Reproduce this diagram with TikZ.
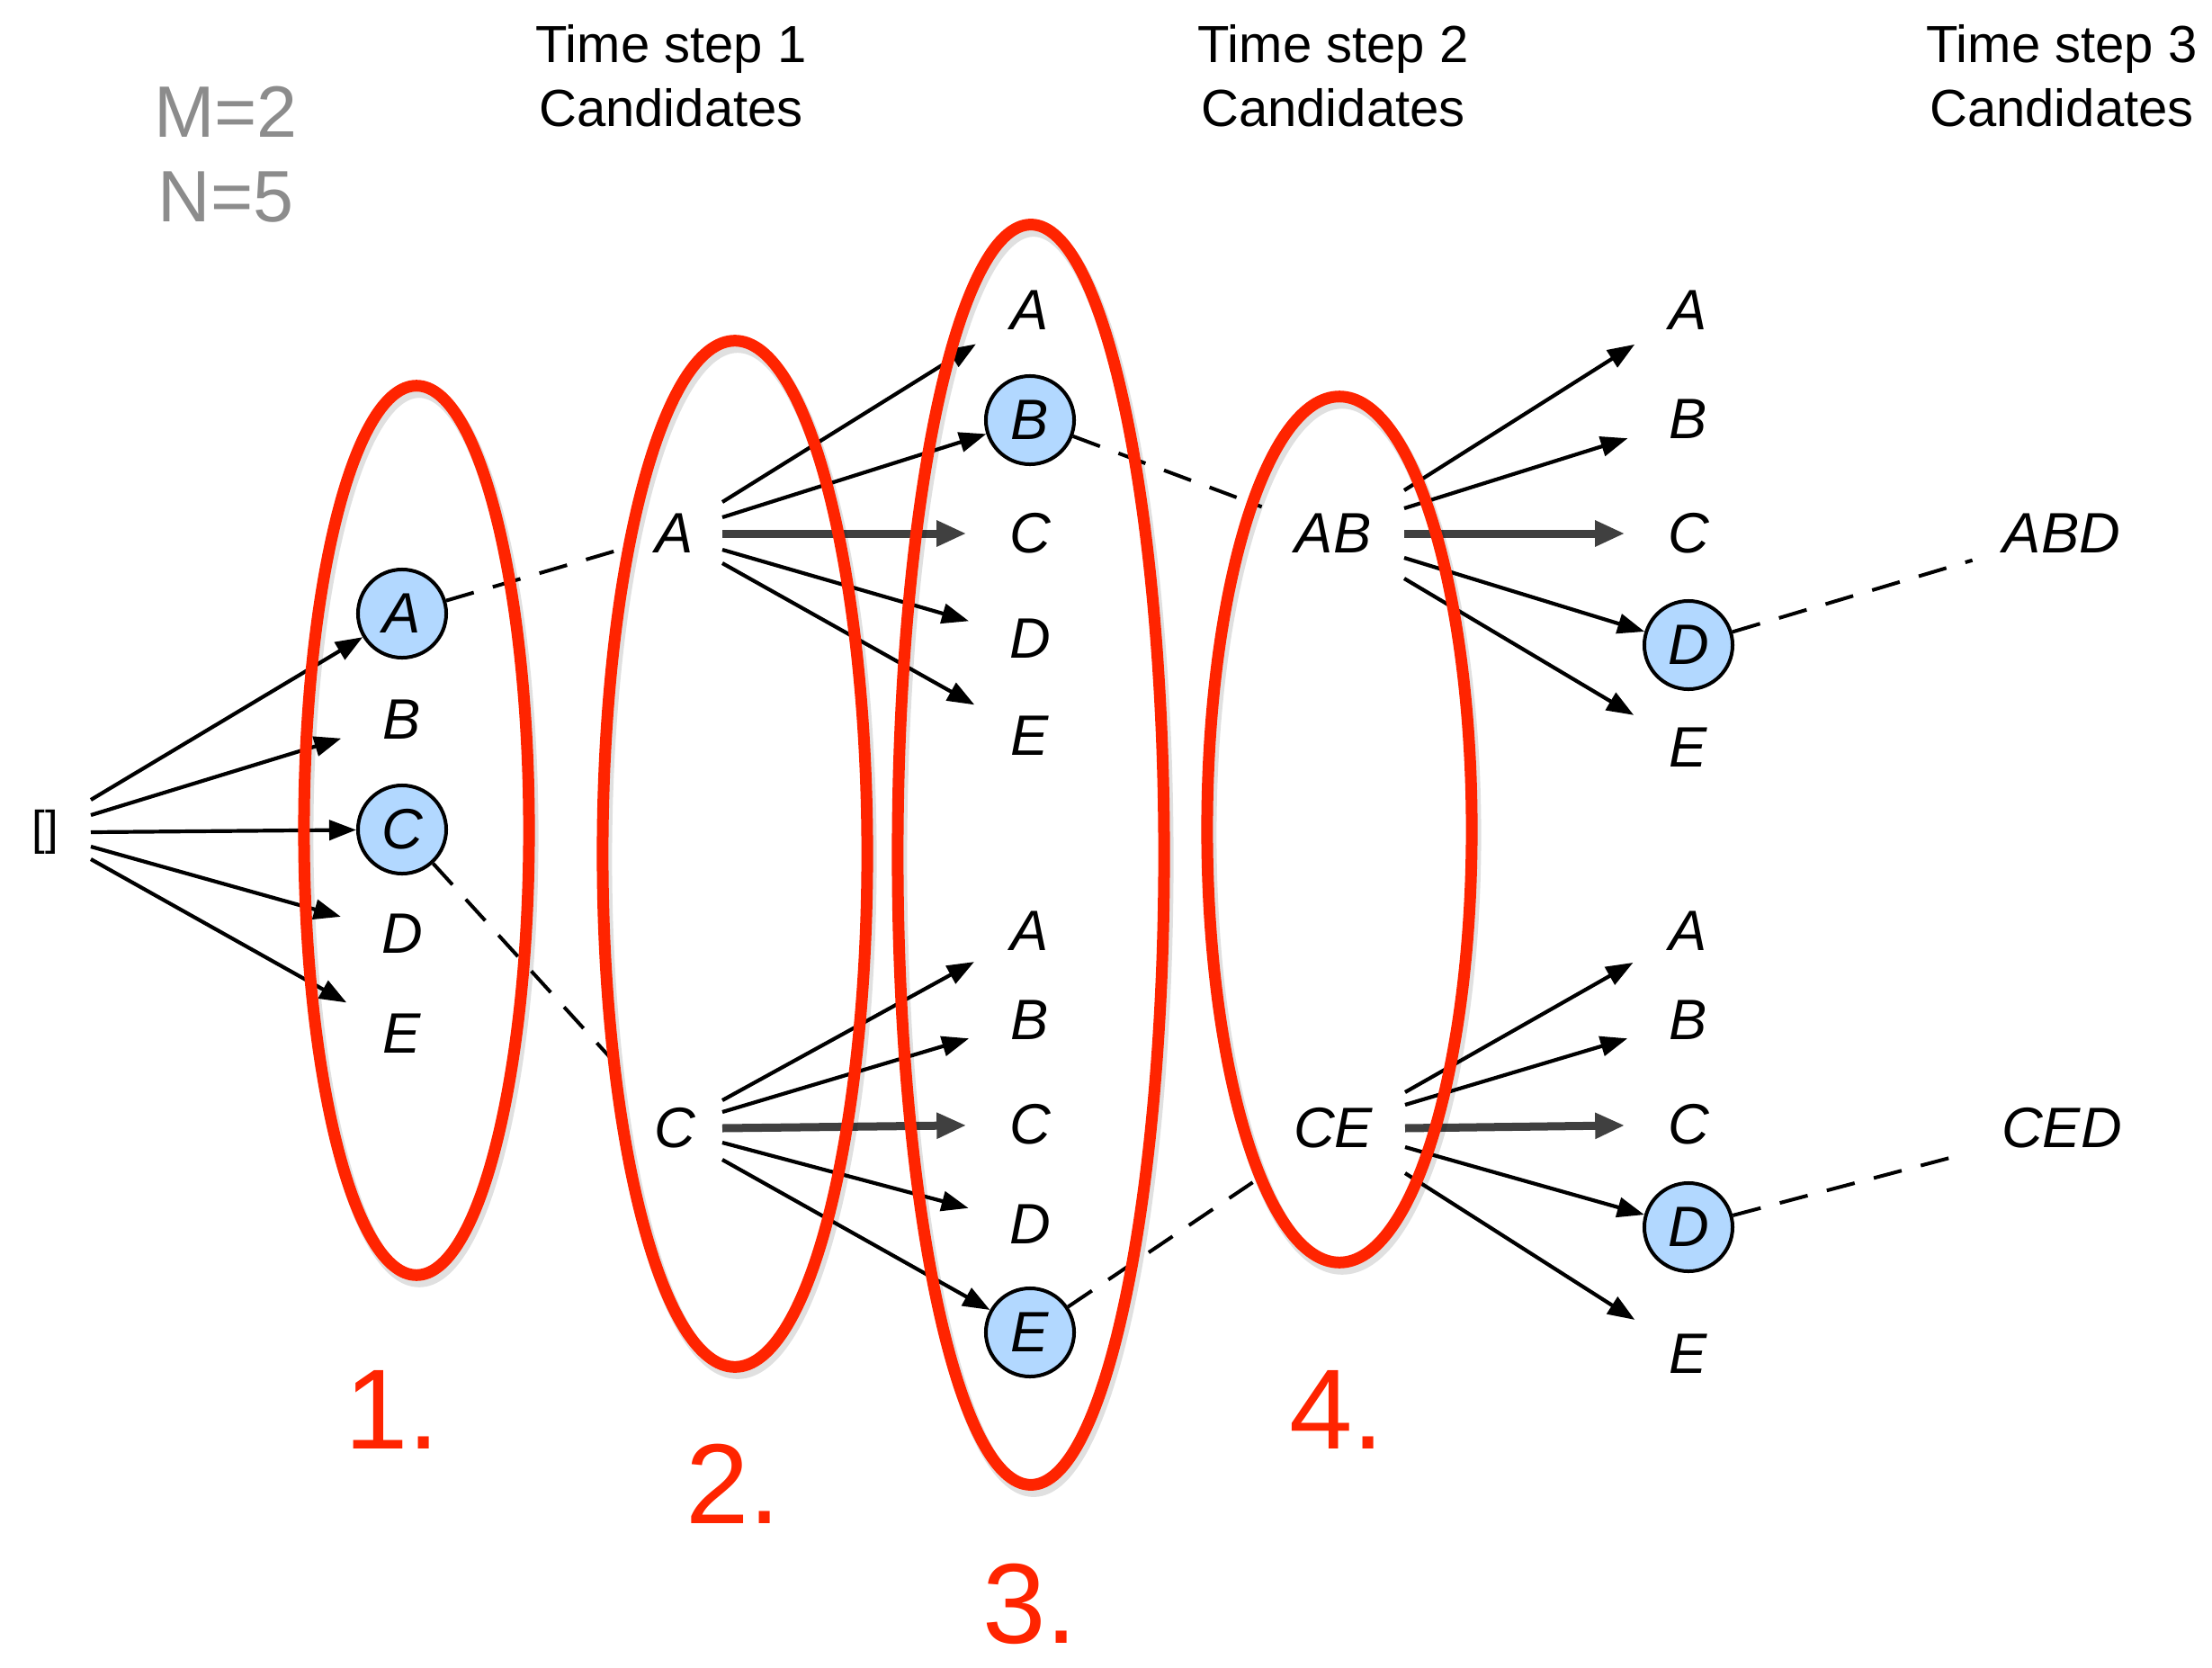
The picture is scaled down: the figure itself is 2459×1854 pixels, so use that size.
\documentclass[tikz,border=0pt]{standalone}
\usepackage{fontspec}
\setmainfont{Liberation Sans}
\usetikzlibrary{arrows.meta,calc}
\definecolor{hlblue}{RGB}{178,216,255}
\definecolor{redc}{RGB}{255,36,0}
\definecolor{grayt}{RGB}{140,140,140}
\definecolor{darkarr}{RGB}{64,64,64}
\newcommand\lfont{\fontsize{18}{21}\selectfont\itshape}
\begin{document}
\begin{tikzpicture}[x=0.01cm,y=-0.01cm,
 lt/.style={circle,inner sep=0pt,minimum size=14mm,font=\lfont},
 hl/.style={circle,draw,fill=hlblue,line width=0.4mm,inner sep=0pt,minimum size=9.8mm,font=\lfont},
 midl/.style={circle,inner sep=0pt,minimum size=12mm,font=\lfont},
 pairl/.style={circle,inner sep=0pt,minimum size=16.8mm,font=\lfont},
 triple/.style={circle,inner sep=0pt,minimum size=20.6mm,font=\lfont},
 arr/.style={-{Triangle[length=3mm,width=2.2mm]},line width=0.42mm},
 marr/.style={-{Triangle[length=3.3mm,width=2.7mm]},line width=0.9mm,draw=darkarr,fill=darkarr},
 dsh/.style={line width=0.4mm,dash pattern=on 3.2mm off 2.2mm},
 redell/.style={draw=redc,line width=1.3mm},
 shadowell/.style={draw=black,opacity=0.12,line width=1.5mm},
 hdr/.style={anchor=base,font=\fontsize{16.5}{20}\selectfont},
 mn/.style={anchor=base,text=grayt,font=\fontsize{23}{27}\selectfont},
 num/.style={anchor=base,inner sep=0pt,text=redc,font=\fontsize{36}{42}\selectfont}]

\useasboundingbox (0,0) rectangle (2459,1854);

% headers
\node[mn] (m2) at (251,152) {M=2};
\node[mn] (n5) at (251,246) {N=5};
\node[hdr] (h1a) at (746,69) {Time step 1};
\node[hdr] (h1b) at (746,140) {Candidates};
\node[hdr] (h2a) at (1482,69) {Time step 2};
\node[hdr] (h2b) at (1482,140) {Candidates};
\node[hdr] (h3a) at (2292,69) {Time step 3};
\node[hdr] (h3b) at (2292,140) {Candidates};

% root
\node[font=\fontsize{15}{18}\selectfont,inner sep=0pt] (root) at (50,925) {[]};

% column 1
\node[hl] (c1A) at (447,682) {A};
\node[lt] (c1B) at (447,800) {B};
\node[hl] (c1C) at (447,922) {C};
\node[lt] (c1D) at (447,1038) {D};
\node[lt] (c1E) at (447,1149) {E};

% column 2
\node[midl] (c2A) at (750,593) {A};
\node[midl] (c2C) at (750,1254) {C};

% column 3
\node[lt] (t3A) at (1145,345) {A};
\node[hl] (t3B) at (1145,467) {B};
\node[lt] (t3C) at (1145,593) {C};
\node[lt] (t3D) at (1145,710) {D};
\node[lt] (t3E) at (1145,818) {E};
\node[lt] (b3A) at (1145,1035) {A};
\node[lt] (b3B) at (1145,1134) {B};
\node[lt] (b3C) at (1145,1250) {C};
\node[lt] (b3D) at (1145,1361) {D};
\node[hl] (b3E) at (1145,1481) {E};

% column 4
\node[pairl] (AB) at (1482,593) {AB};
\node[pairl] (CE) at (1482,1254) {CE};

% column 5
\node[lt] (t5A) at (1877,345) {A};
\node[lt] (t5B) at (1877,466) {B};
\node[lt] (t5C) at (1877,593) {C};
\node[hl] (t5D) at (1877,717) {D};
\node[lt] (t5E) at (1877,831) {E};
\node[lt] (b5A) at (1877,1035) {A};
\node[lt] (b5B) at (1877,1134) {B};
\node[lt] (b5C) at (1877,1250) {C};
\node[hl] (b5D) at (1877,1364) {D};
\node[lt] (b5E) at (1877,1505) {E};

% column 6
\node[triple] (ABD) at (2292,593) {ABD};
\node[triple] (CED) at (2292,1254) {CED};

% start points
\coordinate (r1) at ($(root)+(51,-36)$);
\coordinate (r2) at ($(root)+(51,-19)$);
\coordinate (r3) at ($(root)+(51,0)$);
\coordinate (r4) at ($(root)+(51,16)$);
\coordinate (r5) at ($(root)+(51,30)$);
\coordinate (a1) at ($(c2A)+(53,-35)$);
\coordinate (a2) at ($(c2A)+(53,-18)$);
\coordinate (a3) at ($(c2A)+(53,0)$);
\coordinate (a4) at ($(c2A)+(53,18)$);
\coordinate (a5) at ($(c2A)+(53,33)$);
\coordinate (c1) at ($(c2C)+(53,-31)$);
\coordinate (c2) at ($(c2C)+(53,-18)$);
\coordinate (c3) at ($(c2C)+(53,0)$);
\coordinate (c4) at ($(c2C)+(53,16)$);
\coordinate (c5) at ($(c2C)+(53,35)$);
\coordinate (ab1) at ($(AB)+(79,-48)$);
\coordinate (ab2) at ($(AB)+(79,-28)$);
\coordinate (ab3) at ($(AB)+(79,0)$);
\coordinate (ab4) at ($(AB)+(79,27)$);
\coordinate (ab5) at ($(AB)+(79,50)$);
\coordinate (ce1) at ($(CE)+(80,-40)$);
\coordinate (ce2) at ($(CE)+(80,-26)$);
\coordinate (ce3) at ($(CE)+(80,0)$);
\coordinate (ce4) at ($(CE)+(80,21)$);
\coordinate (ce5) at ($(CE)+(80,50)$);

% arrows
\draw[arr] (r1) -- (c1A);
\draw[arr] (r2) -- (c1B);
\draw[arr] (r3) -- (c1C);
\draw[arr] (r4) -- (c1D);
\draw[arr] (r5) -- (c1E);

\draw[arr] (a1) -- (t3A);
\draw[arr] (a2) -- (t3B);
\draw[marr] (a3) -- (t3C);
\draw[arr] (a4) -- (t3D);
\draw[arr] (a5) -- (t3E);

\draw[arr] (c1) -- (b3A);
\draw[arr] (c2) -- (b3B);
\draw[marr] (c3) -- (b3C);
\draw[arr] (c4) -- (b3D);
\draw[arr] (c5) -- (b3E);

\draw[arr] (ab1) -- (t5A);
\draw[arr] (ab2) -- (t5B);
\draw[marr] (ab3) -- (t5C);
\draw[arr] (ab4) -- (t5D);
\draw[arr] (ab5) -- (t5E);

\draw[arr] (ce1) -- (b5A);
\draw[arr] (ce2) -- (b5B);
\draw[marr] (ce3) -- (b5C);
\draw[arr] (ce4) -- (b5D);
\draw[arr] (ce5) -- (b5E);

% dashed selections
\draw[dsh] (c1A) -- (c2A);
\draw[dsh,shorten >=3.2mm] (c1C) -- (c2C);
\draw[dsh] (t3B) -- (AB);
\draw[dsh,shorten >=2.3mm] (b3E) -- (CE);
\draw[dsh] (t5D) -- (ABD);
\draw[dsh,shorten >=2.2mm] (b5D) -- (CED);

% red ellipses
\begin{scope}[shift={(3,6)}]
\draw[shadowell] (463,923) ellipse [x radius=1.25cm, y radius=4.94cm];
\draw[shadowell] (817,949) ellipse [x radius=1.47cm, y radius=5.70cm];
\draw[shadowell] (1146,950) ellipse [x radius=1.48cm, y radius=7.00cm];
\draw[shadowell] (1489,922) ellipse [x radius=1.47cm, y radius=4.81cm];
\end{scope}
\draw[redell] (463,923) ellipse [x radius=1.25cm, y radius=4.94cm];
\draw[redell] (817,949) ellipse [x radius=1.47cm, y radius=5.70cm];
\draw[redell] (1146,950) ellipse [x radius=1.48cm, y radius=7.00cm];
\draw[redell] (1489,922) ellipse [x radius=1.47cm, y radius=4.81cm];

% numbers
\node[num] (n1) at (436,1610) {1.};
\node[num] (n2) at (815,1693) {2.};
\node[num] (n3) at (1145,1826) {3.};
\node[num] (n4) at (1486,1610) {4.};
\end{tikzpicture}
\end{document}
